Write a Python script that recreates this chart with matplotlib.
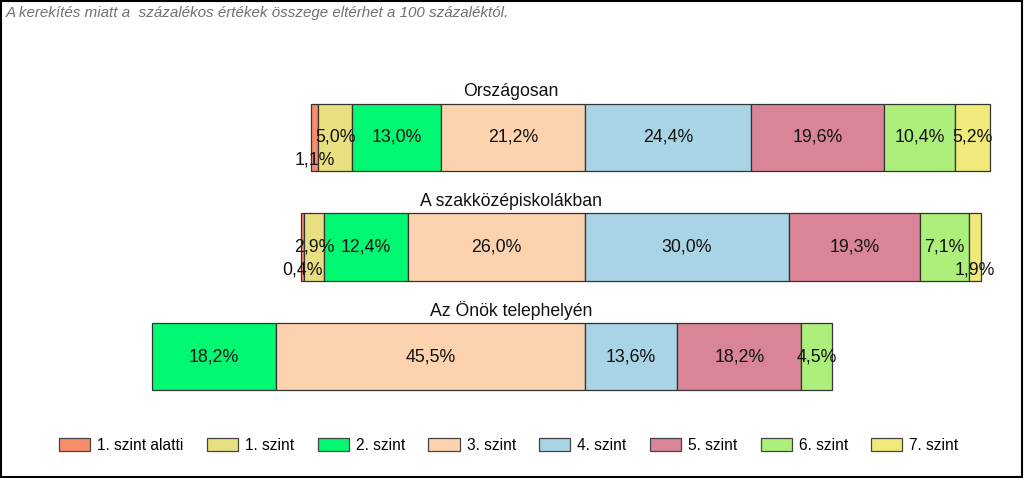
import matplotlib.pyplot as plt
from matplotlib.patches import Patch, Rectangle
from matplotlib.transforms import blended_transform_factory

plt.rcParams['font.family'] = ['Liberation Sans', 'DejaVu Sans']

groups = ['Országosan', 'A szakközépiskolákban', 'Az Önök telephelyén']
levels = ['1. szint alatti', '1. szint', '2. szint', '3. szint',
          '4. szint', '5. szint', '6. szint', '7. szint']
colors = ['#F88D69', '#E8DF80', '#00F872', '#FDD3AF',
          '#A8D4E6', '#D98597', '#ACF07B', '#F0EA7A']

# percentages per level, one list per group
orszagosan = [1.1, 5.0, 13.0, 21.2, 24.4, 19.6, 10.4, 5.2]
szakkozep = [0.4, 2.9, 12.4, 26.0, 30.0, 19.3, 7.1, 1.9]
telephely = [0.0, 0.0, 18.2, 45.5, 13.6, 18.2, 4.5, 0.0]
values = [orszagosan, szakkozep, telephely]

fig = plt.figure(figsize=(10.24, 4.78), dpi=100)
ax = fig.add_axes([0, 0, 1, 1])
ax.set_xlim(-585 / 6.8, (1024 - 585) / 6.8)
ax.set_ylim((478 - 137.5) / 109.5, -137.5 / 109.5)
ax.axis('off')

for i, vals in enumerate(values):
    # levels below 4. szint go left of zero, the rest to the right
    left = -sum(vals[:4])
    for j, v in enumerate(vals):
        if v > 0:
            ax.barh(i, v, left=left, height=0.612, color=colors[j],
                    edgecolor='#333333', linewidth=0.9)
            dy = 0.21 if v < 2 else 0
            ax.text(left + v / 2, i + dy, f'{v:.1f}%'.replace('.', ','),
                    ha='center', va='center', fontsize=12.8, color='#111111')
        left += v

tr = blended_transform_factory(ax.transAxes, ax.transData)
for i, g in enumerate(groups):
    ax.text(0.499, i - 0.42, g, transform=tr, ha='center', va='center',
            fontsize=12.7, color='#111111')

fig.text(0.006, 0.973, 'A kerekítés miatt a  százalékos értékek összege eltérhet a 100 százaléktól.',
         ha='left', va='center', fontsize=10.9, style='italic', color='#707070')

handles = [Patch(facecolor=c, edgecolor='#444444', linewidth=0.9) for c in colors]
fig.legend(handles, levels, loc='center', bbox_to_anchor=(0.497, 0.068), ncol=8,
           frameon=False, fontsize=11.2, handlelength=2.0, handleheight=0.9,
           handletextpad=0.45, columnspacing=1.5)

fig.patches.append(Rectangle((0.001, 0.002), 0.997, 0.996, transform=fig.transFigure,
                             fill=False, edgecolor='black', linewidth=1.5))

fig.savefig('out.png', dpi=100)
